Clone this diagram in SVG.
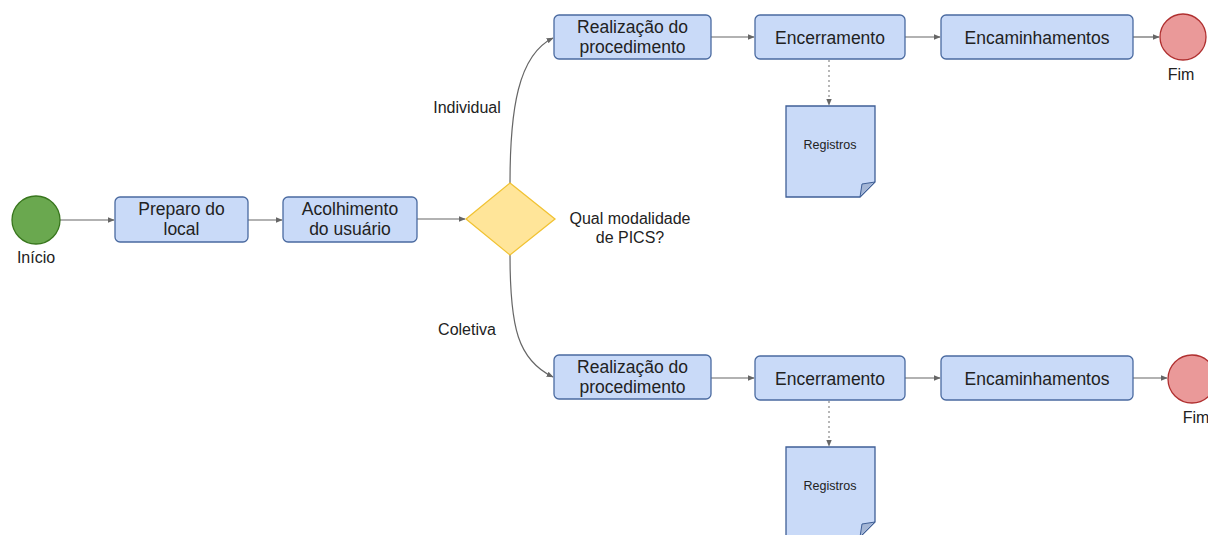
<svg xmlns="http://www.w3.org/2000/svg" width="1208" height="535" viewBox="0 0 1208 535">
<defs>
<style>
.box{fill:#c9daf8;stroke:#4a6aa0;stroke-width:1.3}
.t{font-family:"Liberation Sans",Arial,sans-serif;font-size:17.5px;fill:#222;text-anchor:middle}
.lbl{font-family:"Liberation Sans",Arial,sans-serif;font-size:16px;fill:#222;text-anchor:middle}
.sm{font-family:"Liberation Sans",Arial,sans-serif;font-size:12.5px;fill:#222;text-anchor:middle}
.c{fill:none;stroke:#666;stroke-width:1.2}
.d{fill:none;stroke:#888;stroke-width:1.2;stroke-dasharray:2 3}
.doc{fill:#c9daf8;stroke:#3f5f96;stroke-width:1.3}
.fold{fill:#a4b6d6;stroke:#3f5f96;stroke-width:1}
</style>
<marker id="ah" viewBox="0 0 10 10" refX="9" refY="5" markerWidth="7" markerHeight="7" orient="auto-start-reverse" markerUnits="userSpaceOnUse">
<path d="M0,1 L10,5 L0,9 z" fill="#666"/>
</marker>
</defs>
<rect width="1208" height="535" fill="#fff"/>
<g id="connectors">
<line class="c" x1="60" y1="220" x2="114" y2="220" marker-end="url(#ah)"/>
<line class="c" x1="248" y1="220" x2="282" y2="220" marker-end="url(#ah)"/>
<line class="c" x1="417" y1="219" x2="465" y2="219" marker-end="url(#ah)"/>
<path class="c" d="M510,183 C510,110 518,55 553,38" marker-end="url(#ah)"/>
<path class="c" d="M510,255 C510,328 518,360 553,377" marker-end="url(#ah)"/>
<line class="c" x1="711" y1="37" x2="754" y2="37" marker-end="url(#ah)"/>
<line class="c" x1="905" y1="37" x2="940" y2="37" marker-end="url(#ah)"/>
<line class="c" x1="1133" y1="37" x2="1159" y2="37" marker-end="url(#ah)"/>
<line class="c" x1="711" y1="378" x2="754" y2="378" marker-end="url(#ah)"/>
<line class="c" x1="905" y1="378" x2="940" y2="378" marker-end="url(#ah)"/>
<line class="c" x1="1133" y1="378" x2="1167" y2="378" marker-end="url(#ah)"/>
<line class="d" x1="829" y1="60" x2="829" y2="105" marker-end="url(#ah)"/>
<line class="d" x1="829" y1="401" x2="829" y2="446" marker-end="url(#ah)"/>
<text class="lbl" x="467" y="113">Individual</text>
<text class="lbl" x="467" y="335">Coletiva</text>
</g>
<g id="inicio">
<circle cx="36" cy="220" r="24" fill="#6aa84f" stroke="#38761d" stroke-width="1.3"/>
<text class="lbl" x="36" y="263">Início</text>
</g>
<g id="preparo">
<rect class="box" x="115" y="197" width="133" height="45" rx="5"/>
<text class="t" x="181.5" y="215">Preparo do</text>
<text class="t" x="181.5" y="235">local</text>
</g>
<g id="acolhimento">
<rect class="box" x="283" y="197" width="134" height="45" rx="5"/>
<text class="t" x="350" y="215">Acolhimento</text>
<text class="t" x="350" y="235">do usuário</text>
</g>
<g id="decisao">
<polygon points="510,183 555,219 510,255 466,219" fill="#ffe599" stroke="#f1c232" stroke-width="1.3"/>
<text class="lbl" x="630" y="224">Qual modalidade</text>
<text class="lbl" x="630" y="243">de PICS?</text>
</g>
<g id="realizacao1">
<rect class="box" x="554" y="15" width="157" height="44" rx="5"/>
<text class="t" x="632.5" y="33">Realização do</text>
<text class="t" x="632.5" y="53">procedimento</text>
</g>
<g id="encerramento1">
<rect class="box" x="755" y="15" width="150" height="44" rx="5"/>
<text class="t" x="830" y="43.5">Encerramento</text>
</g>
<g id="encaminhamentos1">
<rect class="box" x="941" y="15" width="192" height="44" rx="5"/>
<text class="t" x="1037" y="43.5">Encaminhamentos</text>
</g>
<g id="fim1">
<circle cx="1183" cy="37" r="23" fill="#ea9999" stroke="#b03030" stroke-width="1.3"/>
<text class="lbl" x="1181" y="80">Fim</text>
</g>
<g id="registros1">
<path class="doc" d="M786,106 H875 V182 L860,197 H786 Z"/>
<path class="fold" d="M875,182 L860,197 L862,184 Z"/>
<text class="sm" x="830" y="149">Registros</text>
</g>
<g id="realizacao2">
<rect class="box" x="554" y="355" width="157" height="44" rx="5"/>
<text class="t" x="632.5" y="373">Realização do</text>
<text class="t" x="632.5" y="393">procedimento</text>
</g>
<g id="encerramento2">
<rect class="box" x="755" y="356" width="150" height="44" rx="5"/>
<text class="t" x="830" y="384.5">Encerramento</text>
</g>
<g id="encaminhamentos2">
<rect class="box" x="941" y="356" width="192" height="44" rx="5"/>
<text class="t" x="1037" y="384.5">Encaminhamentos</text>
</g>
<g id="fim2">
<circle cx="1192" cy="379" r="24" fill="#ea9999" stroke="#b03030" stroke-width="1.3"/>
<text class="lbl" x="1196" y="423">Fim</text>
</g>
<g id="registros2">
<path class="doc" d="M786,447 H875 V522 L860,537 H786 Z"/>
<path class="fold" d="M875,522 L860,537 L862,524 Z"/>
<text class="sm" x="830" y="490">Registros</text>
</g>
</svg>
